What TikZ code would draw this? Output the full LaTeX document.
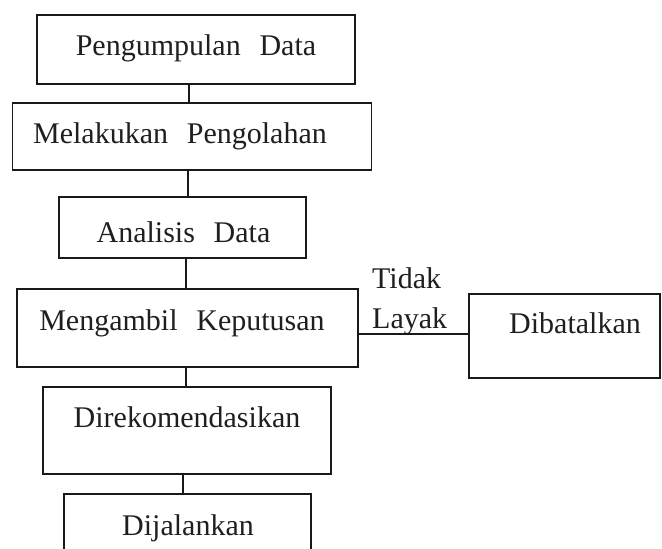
\documentclass[tikz,border=0pt]{standalone}
\usepackage{fontspec}
\setmainfont{Liberation Serif}[WordSpace=2.5]
\begin{document}
\begin{tikzpicture}[x=1pt,y=-1pt,
  box/.style={draw=black!90,line width=1.6pt,rectangle,inner sep=0pt,outer sep=0pt},
  txt/.style={anchor=base,inner sep=0pt,font=\fontsize{30}{36}\selectfont,text=black!88},
  conn/.style={draw=black!90,line width=1.6pt}]
\useasboundingbox (0,0) rectangle (662,549);
\clip (0,0) rectangle (662,549);
\fill[white] (0,0) rectangle (662,549);
% boxes
\node[box,minimum width=318pt,minimum height=69pt] (b1) at (196,49.5) {};
\node[box,minimum width=359pt,minimum height=67pt] (b2) at (192,136.5) {};
\node[box,minimum width=247pt,minimum height=61pt] (b3) at (182.5,227.5) {};
\node[box,minimum width=341pt,minimum height=78pt] (b4) at (187.5,328) {};
\node[box,minimum width=288pt,minimum height=87pt] (b5) at (187,430.5) {};
\node[box,minimum width=247pt,minimum height=100pt] (b6) at (187.5,544) {};
\node[box,minimum width=191pt,minimum height=84pt] (b7) at (564.5,336) {};
% texts
\node[txt] (t1) at (196,55) {Pengumpulan Data};
\node[txt] (t2) at (180,143) {Melakukan Pengolahan};
\node[txt] (t3) at (183.5,242) {Analisis Data};
\node[txt] (t4) at (182,330) {Mengambil Keputusan};
\node[txt] (t5) at (187,427) {Direkomendasikan};
\node[txt] (t6) at (188,535) {Dijalankan};
\node[txt] (t7) at (575,333) {Dibatalkan};
\node[txt,anchor=base west] (t8) at (372,288) {Tidak};
\node[txt,anchor=base west] (t9) at (372,328) {Layak};
% connectors
\draw[conn] ([xshift=-7pt]b1.south) -- ([xshift=-7pt]b1.south |- b2.north);
\draw[conn] ([xshift=-4pt]b2.south) -- ([xshift=-4pt]b2.south |- b3.north);
\draw[conn] ([xshift=3.5pt]b3.south) -- ([xshift=3.5pt]b3.south |- b4.north);
\draw[conn] ([xshift=-1.5pt]b4.south) -- ([xshift=-1.5pt]b4.south |- b5.north);
\draw[conn] ([xshift=-4pt]b5.south) -- ([xshift=-4pt]b5.south |- b6.north);
\draw[conn] ([yshift=-6pt]b4.east) -- ([yshift=-6pt]b4.east -| b7.west);
\end{tikzpicture}
\end{document}
